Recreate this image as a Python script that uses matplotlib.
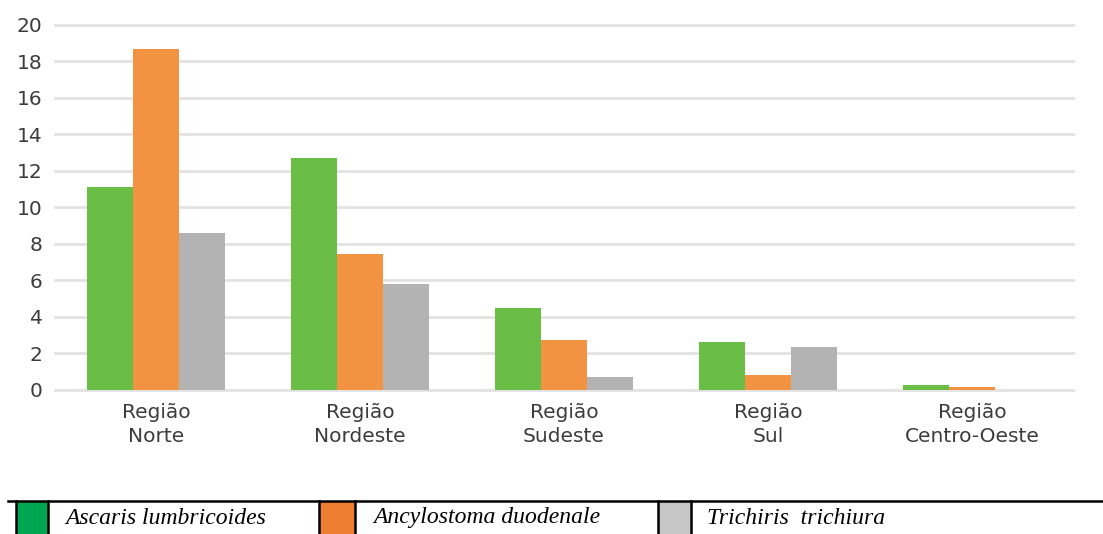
import matplotlib.pyplot as plt
from matplotlib.patches import Rectangle
import numpy as np

regions = ['Região\nNorte', 'Região\nNordeste', 'Região\nSudeste', 'Região\nSul', 'Região\nCentro-Oeste']
species = ['Ascaris lumbricoides', 'Ancylostoma duodenale', 'Trichiris  trichiura']
ascaris = [11.1, 12.7, 4.45, 2.6, 0.25]
ancylostoma = [18.7, 7.45, 2.7, 0.8, 0.15]
trichiris = [8.6, 5.8, 0.7, 2.35, 0.0]

bar_colors = ['#6abd45', '#f29341', '#b3b3b3']
key_colors = ['#00a651', '#ed7d31', '#c6c6c6']

W, H = 1103, 534
fig = plt.figure(figsize=(W / 100, H / 100), dpi=100)

# main bar chart
ax = fig.add_axes([55 / W, (H - 389.5) / H, (1073 - 55) / W, (389.5 - 25) / H])
x = np.arange(len(regions))
width = 0.226
for i, (vals, color) in enumerate(zip([ascaris, ancylostoma, trichiris], bar_colors)):
    ax.bar(x + (i - 1) * width, vals, width, color=color, zorder=3)

ax.set_xlim(-0.495, 4.495)
ax.set_ylim(0, 20)
ax.set_yticks(range(0, 21, 2))
ax.grid(axis='y', color='#e2e2e2', linewidth=2, zorder=0)
for line in ax.get_ygridlines():
    line.set_clip_on(False)
for side in ax.spines.values():
    side.set_visible(False)
ax.tick_params(length=0, labelsize=14.5, labelcolor='#3c3c3c')
ax.tick_params(axis='y', pad=9)
ax.tick_params(axis='x', pad=10)
ax.set_xticks(x)
ax.set_xticklabels(regions, linespacing=1.3)
for lbl in ax.get_xticklabels() + ax.get_yticklabels():
    lbl.set_family('DejaVu Sans')

# boxed species key along the bottom edge
leg = fig.add_axes([0, 0, 1, 34 / H])
leg.set_xlim(0, W)
leg.set_ylim(0, 34)
leg.axis('off')
leg.plot([8, W], [33.5, 33.5], color='black', linewidth=1.8, clip_on=False)
boxes = [(16, 48, 65), (319, 355, 373), (658, 691, 707)]
for (x0, x1, tx), name, color in zip(boxes, species, key_colors):
    leg.add_patch(Rectangle((x0, 0), x1 - x0, 33.5, facecolor=color, edgecolor='none'))
    for xv in (x0, x1):
        leg.plot([xv, xv], [0, 33.5], color='black', linewidth=1.8)
    leg.text(tx, 16, name, family='Liberation Serif', style='italic', fontsize=17,
             va='center', ha='left', color='black')

fig.savefig('out.png', dpi=100)
